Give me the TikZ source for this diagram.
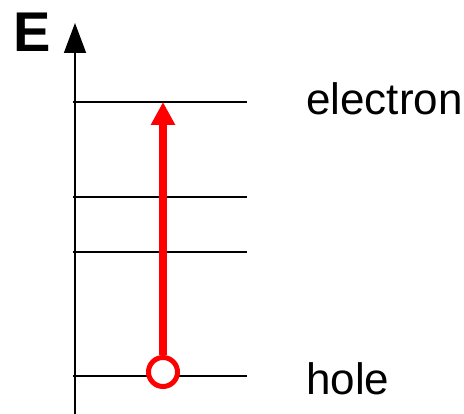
\documentclass[tikz,border=0pt]{standalone}
\usepackage{fontspec}
\setmainfont{Liberation Sans}
\usetikzlibrary{arrows.meta,positioning}
\tikzset{
    level/.style = {line width=1.6pt},
    axis/.style = {line width=1.6pt,-{Triangle[length=30pt,width=22pt]}},
    trans/.style = {red,line width=8pt,-{Triangle[length=23pt,width=23pt]}},
    holept/.style = {circle,draw=red,fill=white,line width=5pt,minimum size=29pt,inner sep=0pt},
    lbl/.style = {anchor=base west,inner sep=0pt,font=\fontsize{44}{44}\selectfont}
}
\begin{document}
\begin{tikzpicture}[x=1pt,y=-1pt]
    \useasboundingbox (0,0) rectangle (464,414);
    % energy axis
    \coordinate (o) at (75,414);
    \coordinate (top) at (75,23);
    \draw[axis] (o) -- (top);
    \node[anchor=base west,inner sep=0pt,font=\fontsize{56}{56}\selectfont\bfseries] (E) at (13,52) {E};

    % levels
    \foreach \y/\n in {102/a,197/b,252/c,376/d}{
        \coordinate (\n1) at (73,\y);
        \coordinate (\n2) at (247,\y);
        \draw[level] (\n1) -- (\n2);
    }

    % transition
    \node[holept] (hole) at (163,372) {};
    \coordinate (el) at (163,102);
    \draw[trans] (hole) -- (el);

    % labels
    \node[lbl] (electron) at (306,115) {electron};
    \node[lbl] (holelbl) at (306,395) {hole};
\end{tikzpicture}
\end{document}
